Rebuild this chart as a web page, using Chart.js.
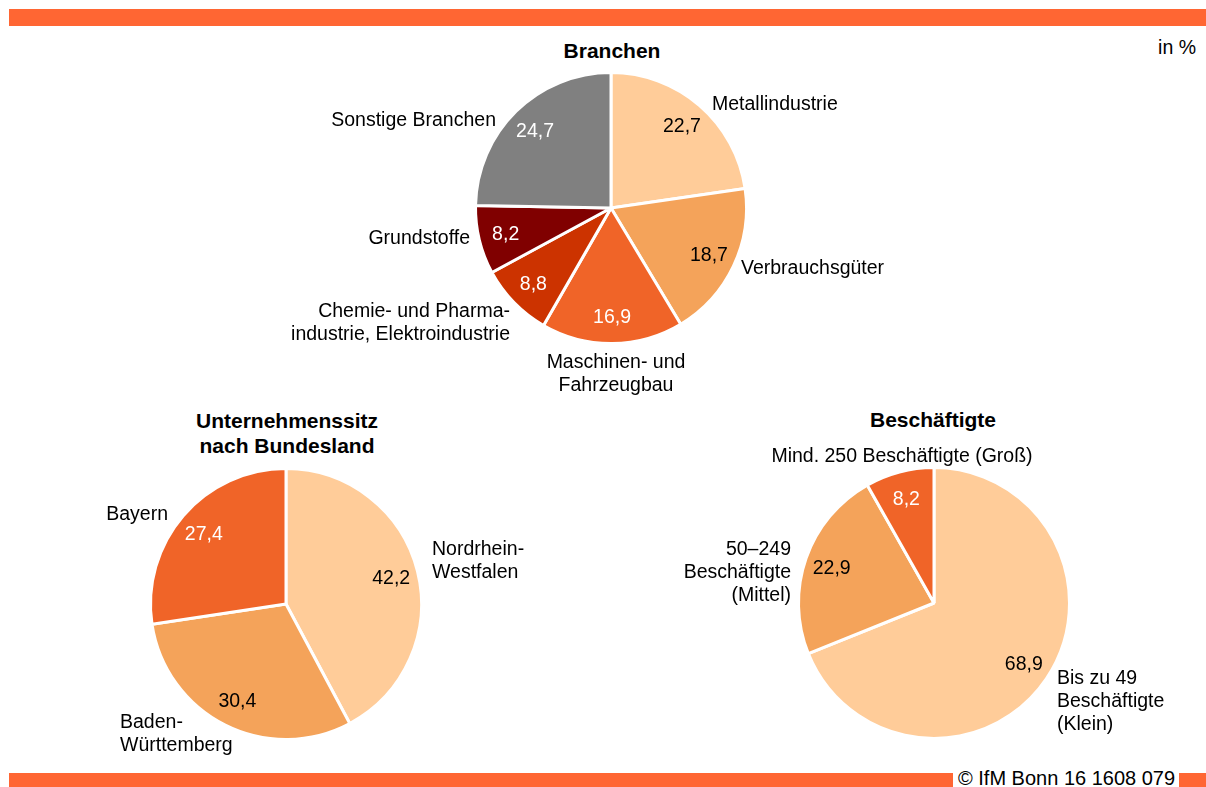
<!DOCTYPE html>
<html lang="de">
<head>
    <meta charset="UTF-8">
    <title>Branchen, Unternehmenssitz, Beschäftigte</title>
    <script src="https://cdn.jsdelivr.net/npm/chart.js"></script>
    <style>
        body { margin: 0; background: #fff; font-family: "Liberation Sans", Arial, sans-serif; color: #000; }
        #page { position: relative; width: 1206px; height: 787px; overflow: hidden; }
        .bar { position: absolute; background: #ff6633; }
        .pie { position: absolute; width: 300px; height: 300px; }
        .txt { position: absolute; font-size: 19.5px; line-height: 23px; white-space: nowrap; z-index: 2; }
        .title { position: absolute; font-size: 21px; line-height: 25px; font-weight: bold; white-space: nowrap; text-align: center; transform: translateX(-50%); }
    </style>
</head>
<body>
<div id="page">
    <div class="bar" style="left:9px; top:9px; width:1197px; height:17px;"></div>
    <div class="bar" style="left:9px; top:773px; width:944px; height:14px;"></div>
    <div class="bar" style="left:1179px; top:773px; width:27px; height:14px;"></div>
    <div class="txt" style="left:958px; top:767px; font-size:20px;">© IfM Bonn 16 1608 079</div>
    <div class="txt" style="left:1196px; top:36px; transform:translateX(-100%);">in %</div>

    <div class="title" style="left:612px; top:38px;">Branchen</div>
    <div class="title" style="left:287px; top:408px;">Unternehmenssitz<br>nach Bundesland</div>
    <div class="title" style="left:933px; top:407px;">Beschäftigte</div>

    <canvas id="branchenChart" class="pie" width="300" height="300" style="left:461px; top:58px;"></canvas>
    <canvas id="landChart" class="pie" width="300" height="300" style="left:136px; top:454px;"></canvas>
    <canvas id="groesseChart" class="pie" width="300" height="300" style="left:784px; top:453px;"></canvas>
</div>
<script>
    // Branchen (Anteile in %), im Uhrzeigersinn ab 12 Uhr
    const branchenLabels = [['Metallindustrie'], ['Verbrauchsgüter'], ['Maschinen- und', 'Fahrzeugbau'],
        ['Chemie- und Pharma-', 'industrie, Elektroindustrie'], ['Grundstoffe'], ['Sonstige Branchen']];
    const branchenValues = [22.7, 18.7, 16.9, 8.8, 8.2, 24.7];

    // Unternehmenssitz nach Bundesland
    const landLabels = [['Nordrhein-', 'Westfalen'], ['Baden-', 'Württemberg'], ['Bayern']];
    const landValues = [42.2, 30.4, 27.4];

    // Beschäftigte
    const groesseLabels = [['Bis zu 49', 'Beschäftigte', '(Klein)'], ['50–249', 'Beschäftigte', '(Mittel)'],
        ['Mind. 250 Beschäftigte (Groß)']];
    const groesseValues = [68.9, 22.9, 8.2];

    const PEACH = '#ffcc99', LIGHT = '#f4a35a', ORANGE = '#f06428', RED = '#cc3300', DARKRED = '#800000', GREY = '#808080';

    const branchenColors = [PEACH, LIGHT, ORANGE, RED, DARKRED, GREY];
    const landColors = [PEACH, LIGHT, ORANGE];
    const groesseColors = [PEACH, LIGHT, ORANGE];

    // where the category names sit on the page: [x, top, align]
    const branchenPos = [[712, 92, 'left'], [741, 256, 'left'], [616, 350, 'center'],
        [510, 299, 'right'], [470, 226, 'right'], [496, 108, 'right']];
    const landPos = [[432, 537, 'left'], [120, 710, 'left'], [168, 502, 'right']];
    const groessePos = [[1057, 666, 'left'], [791, 537, 'right'], [902, 444, 'center']];

    function fmt(v) {
        return v.toFixed(1).replace('.', ',');
    }

    function isDark(c) {
        return c === ORANGE || c === RED || c === DARKRED || c === GREY;
    }

    // value inside each slice
    const valueLabels = {
        id: 'valueLabels',
        afterDatasetsDraw(chart) {
            const ctx = chart.ctx;
            const ds = chart.data.datasets[0];
            ctx.save();
            ctx.font = '19.5px "Liberation Sans", Arial, sans-serif';
            ctx.textAlign = 'center';
            ctx.textBaseline = 'middle';
            chart.getDatasetMeta(0).data.forEach(function (arc, i) {
                const p = arc.getProps(['x', 'y', 'startAngle', 'endAngle', 'outerRadius'], true);
                const a = (p.startAngle + p.endAngle) / 2;
                const r = p.outerRadius * 0.8;
                ctx.fillStyle = isDark(ds.backgroundColor[i]) ? '#fff' : '#000';
                ctx.fillText(fmt(ds.data[i]), p.x + Math.cos(a) * r, p.y + Math.sin(a) * r + 1);
            });
            ctx.restore();
        }
    };

    function addNames(labels, pos) {
        const page = document.getElementById('page');
        labels.forEach(function (lines, i) {
            const d = document.createElement('div');
            d.className = 'txt';
            d.innerHTML = lines.join('<br>');
            d.style.left = pos[i][0] + 'px';
            d.style.top = pos[i][1] + 'px';
            d.style.textAlign = pos[i][2];
            if (pos[i][2] === 'right') d.style.transform = 'translateX(-100%)';
            if (pos[i][2] === 'center') d.style.transform = 'translateX(-50%)';
            page.appendChild(d);
        });
    }

    function makePie(id, labels, values, colors) {
        new Chart(document.getElementById(id), {
            type: 'pie',
            data: {
                labels: labels,
                datasets: [{
                    data: values,
                    backgroundColor: colors,
                    borderColor: '#ffffff',
                    borderWidth: 3
                }]
            },
            options: {
                responsive: false,
                animation: false,
                events: [],
                radius: 135.5,
                layout: { padding: 0 },
                plugins: {
                    legend: { display: false },
                    tooltip: { enabled: false }
                }
            },
            plugins: [valueLabels]
        });
    }

    makePie('branchenChart', branchenLabels, branchenValues, branchenColors);
    makePie('landChart', landLabels, landValues, landColors);
    makePie('groesseChart', groesseLabels, groesseValues, groesseColors);

    addNames(branchenLabels, branchenPos);
    addNames(landLabels, landPos);
    addNames(groesseLabels, groessePos);
</script>
</body>
</html>
